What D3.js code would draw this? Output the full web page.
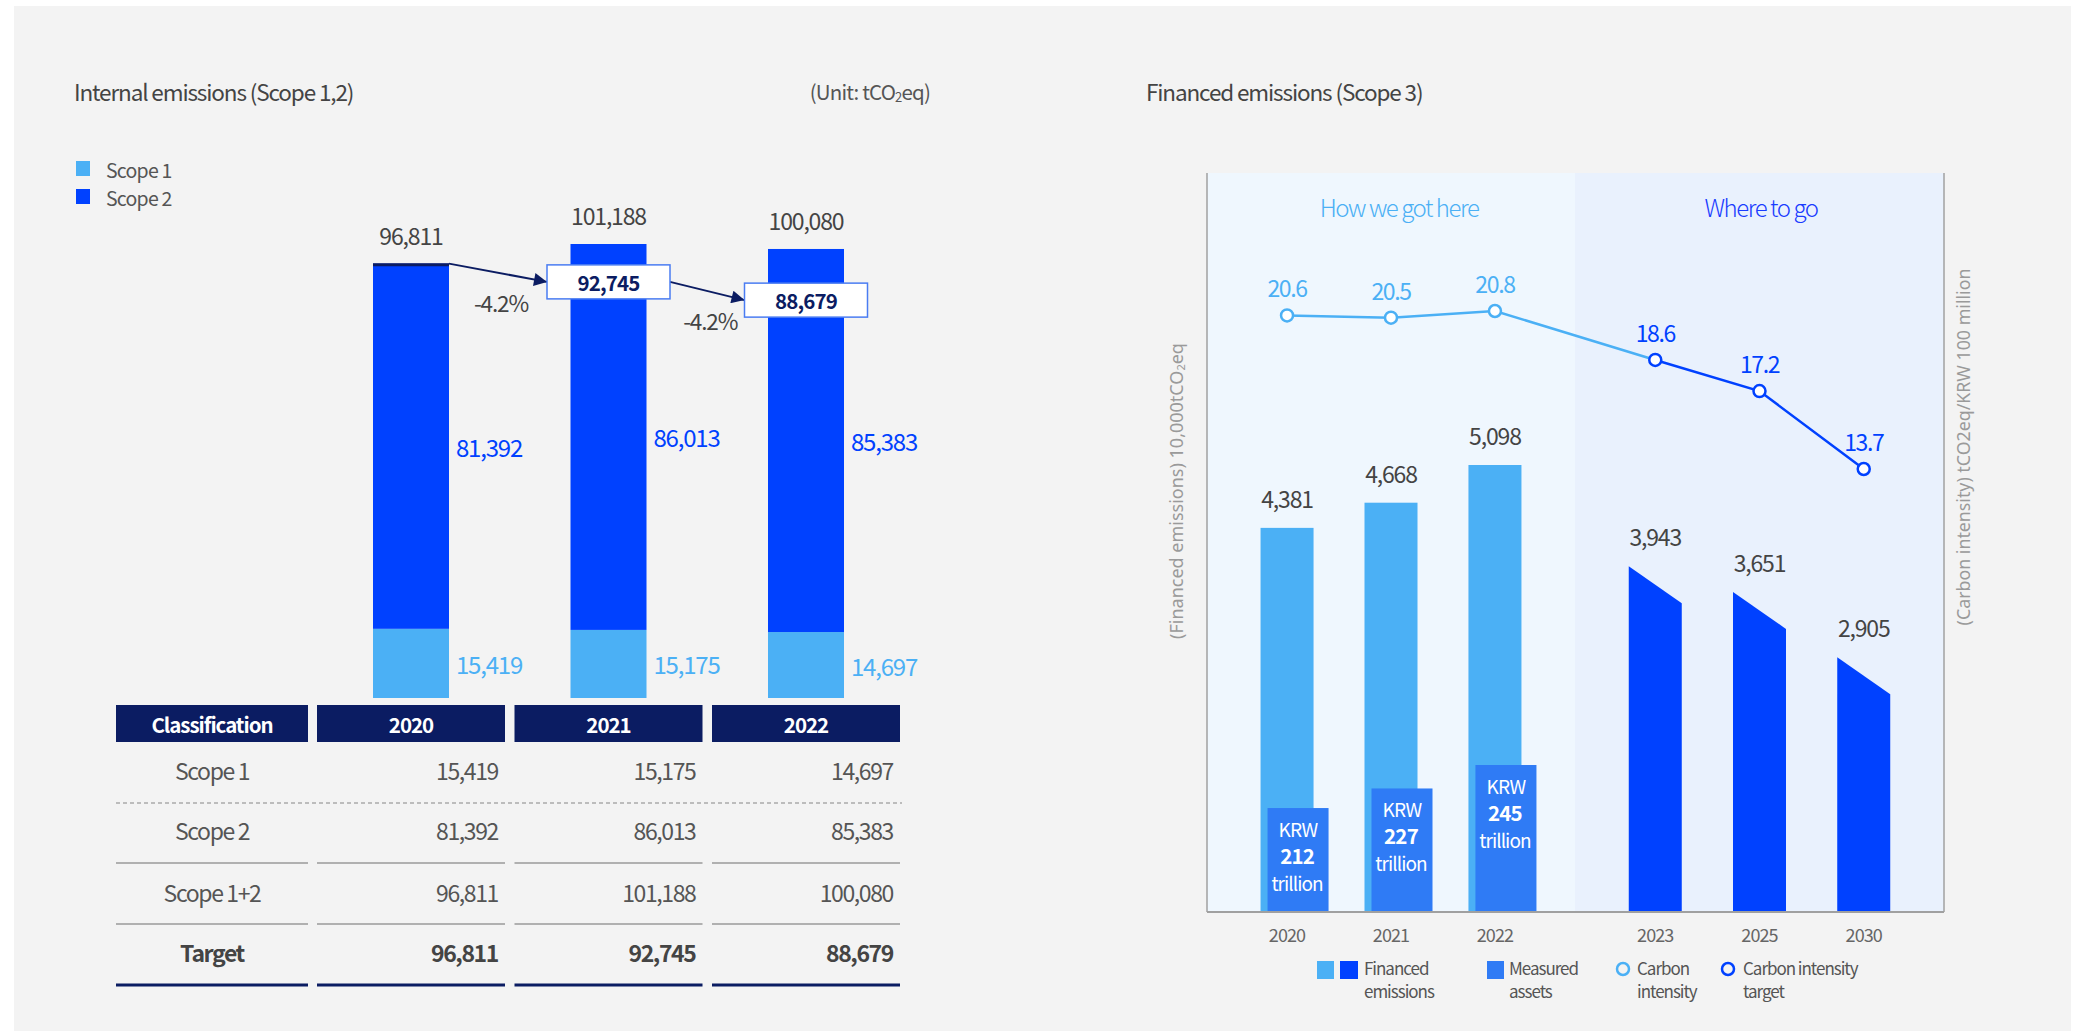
<!DOCTYPE html>
<html lang="en">
<head>
<meta charset="utf-8">
<title>Internal and financed emissions</title>
<script src="https://d3js.org/d3.v7.min.js"></script>
<style>
  body { margin: 0; background: #fff; }
  svg text { font-family: "Noto Sans CJK KR", "Noto Sans", sans-serif; }
</style>
</head>
<body>
<script>
// ---- internal emissions (scope 1,2) ----
const years = ["2020", "2021", "2022"];
const scope1 = [15419, 15175, 14697];
const scope2 = [81392, 86013, 85383];
const totals = [96811, 101188, 100080];
const targets = [96811, 92745, 88679];
const changes = ["-4.2%", "-4.2%"];
const rowLabels = ["Scope 1", "Scope 2", "Scope 1+2", "Target"];
const legendLeft = ["Scope 1", "Scope 2"];

// ---- financed emissions (scope 3) ----
const pastYears = ["2020", "2021", "2022"];
const futureYears = ["2023", "2025", "2030"];
const financed = [4381, 4668, 5098, 3943, 3651, 2905];
const intensity = [20.6, 20.5, 20.8, 18.6, 17.2, 13.7];
const assets = [212, 227, 245];
const legendRight = [["Financed", "emissions"], ["Measured", "assets"], ["Carbon", "intensity"], ["Carbon intensity", "target"]];

const LIGHT = "#4bb0f5", BLUE = "#0041ff", NAVY = "#0b1c62", MID = "#2f7bf5", GREY = "#444";
const fmt = d3.format(",");

const svg = d3.select("body").append("svg")
  .attr("width", 2078).attr("height", 1031);

svg.append("rect").attr("x", 14).attr("y", 6).attr("width", 2057).attr("height", 1025).attr("fill", "#f3f3f3");

svg.append("defs").append("marker")
  .attr("id", "arr").attr("viewBox", "0 0 10 10").attr("refX", 10).attr("refY", 5)
  .attr("markerWidth", 15).attr("markerHeight", 13).attr("orient", "auto")
  .attr("markerUnits", "userSpaceOnUse")
  .append("path").attr("d", "M0,0L10,5L0,10z").attr("fill", NAVY);

// titles
svg.append("text").attr("x", 74).attr("y", 91).attr("dominant-baseline", "central")
  .attr("font-size", 22.5).attr("fill", GREY).attr("letter-spacing", "-0.05em")
  .text("Internal emissions (Scope 1,2)");
const unit = svg.append("text").attr("x", 930).attr("y", 91).attr("dominant-baseline", "central")
  .attr("text-anchor", "end").attr("font-size", 20.5).attr("fill", "#555").attr("letter-spacing", "-0.04em");
unit.append("tspan").text("(Unit: tCO");
unit.append("tspan").attr("font-size", 13).attr("dy", 5).text("2");
unit.append("tspan").attr("dy", -5).text("eq)");

svg.append("text").attr("x", 1146).attr("y", 91).attr("dominant-baseline", "central")
  .attr("font-size", 22.5).attr("fill", GREY).attr("letter-spacing", "-0.05em")
  .text("Financed emissions (Scope 3)");

// left legend
const lg = svg.append("g").selectAll("g").data(legendLeft).join("g")
  .attr("transform", (d, i) => `translate(76,${161 + i * 28})`);
lg.append("rect").attr("width", 14).attr("height", 15).attr("fill", (d, i) => i ? BLUE : LIGHT);
lg.append("text").attr("x", 30).attr("y", 8).attr("dominant-baseline", "central")
  .attr("font-size", 19.5).attr("fill", "#555").attr("letter-spacing", "-0.04em").text(d => d);

// left bars
const xL = d3.scalePoint().domain(years).range([411, 806]);
const yL = d3.scaleLinear().domain([0, 101188]).range([698, 244]);
const bw = 76;

const gL = svg.append("g");
gL.selectAll(".s1").data(years).join("rect")
  .attr("x", d => xL(d) - bw / 2).attr("width", bw)
  .attr("y", (d, i) => yL(scope1[i])).attr("height", (d, i) => yL(0) - yL(scope1[i]))
  .attr("fill", LIGHT);
gL.selectAll(".s2").data(years).join("rect")
  .attr("x", d => xL(d) - bw / 2).attr("width", bw)
  .attr("y", (d, i) => yL(scope1[i] + scope2[i])).attr("height", (d, i) => yL(scope1[i]) - yL(scope1[i] + scope2[i]))
  .attr("fill", BLUE);

gL.selectAll(".l1").data(years).join("text")
  .attr("x", d => xL(d) + bw / 2 + 7).attr("y", (d, i) => (yL(0) + yL(scope1[i])) / 2)
  .attr("dominant-baseline", "central").attr("font-size", 24).attr("fill", LIGHT).attr("letter-spacing", "-0.05em")
  .text((d, i) => fmt(scope1[i]));
gL.selectAll(".l2").data(years).join("text")
  .attr("x", d => xL(d) + bw / 2 + 7).attr("y", (d, i) => (yL(scope1[i]) + yL(totals[i])) / 2)
  .attr("dominant-baseline", "central").attr("font-size", 24).attr("fill", BLUE).attr("letter-spacing", "-0.05em")
  .text((d, i) => fmt(scope2[i]));
gL.selectAll(".lt").data(years).join("text")
  .attr("x", d => xL(d)).attr("y", (d, i) => yL(totals[i]) - 29)
  .attr("dominant-baseline", "central").attr("text-anchor", "middle")
  .attr("font-size", 23).attr("fill", GREY).attr("letter-spacing", "-0.05em")
  .text((d, i) => fmt(totals[i]));

// target line on first bar, boxes on the others
gL.append("line")
  .attr("x1", xL(years[0]) - bw / 2).attr("x2", xL(years[0]) + bw / 2)
  .attr("y1", yL(targets[0]) + 1).attr("y2", yL(targets[0]) + 1)
  .attr("stroke", NAVY).attr("stroke-width", 3);

const boxW = 123, boxH = 34;
const arrows = [
  [xL(years[0]) + bw / 2, yL(targets[0]), xL(years[1]) - boxW / 2, yL(targets[1])],
  [xL(years[1]) + boxW / 2, yL(targets[1]), xL(years[2]) - boxW / 2, yL(targets[2])]
];
gL.selectAll(".arr").data(arrows).join("line")
  .attr("x1", d => d[0]).attr("y1", d => d[1]).attr("x2", d => d[2]).attr("y2", d => d[3])
  .attr("stroke", NAVY).attr("stroke-width", 2).attr("marker-end", "url(#arr)");
gL.selectAll(".chg").data(arrows).join("text")
  .attr("x", d => (d[0] + d[2]) / 2 + 3).attr("y", d => (d[1] + d[3]) / 2 + 29)
  .attr("text-anchor", "middle").attr("dominant-baseline", "central")
  .attr("font-size", 22.5).attr("fill", GREY).attr("letter-spacing", "-0.05em")
  .text((d, i) => changes[i]);

const tb = gL.selectAll(".tb").data(years.slice(1)).join("g")
  .attr("transform", (d, i) => `translate(${xL(d)},${yL(targets[i + 1])})`);
tb.append("rect").attr("x", -boxW / 2).attr("y", -boxH / 2).attr("width", boxW).attr("height", boxH)
  .attr("fill", "#fff").attr("stroke", "#4a7cf2").attr("stroke-width", 1.5);
tb.append("text").attr("text-anchor", "middle").attr("dominant-baseline", "central")
  .attr("font-size", 20.5).attr("font-weight", "bold").attr("fill", NAVY).attr("letter-spacing", "-0.04em")
  .text((d, i) => fmt(targets[i + 1]));

// table
const colW = 188;
const gT = svg.append("g");
const cols = [{ x: 116, w: 192, label: "Classification" }].concat(years.map(y => ({ x: xL(y) - colW / 2, w: colW, label: y })));
gT.selectAll(".hd").data(cols).join("rect")
  .attr("x", d => d.x).attr("y", 705).attr("width", d => d.w).attr("height", 37).attr("fill", NAVY);
gT.selectAll(".ht").data(cols).join("text")
  .attr("x", d => d.x + d.w / 2).attr("y", 724).attr("text-anchor", "middle").attr("dominant-baseline", "central")
  .attr("font-size", 20.5).attr("font-weight", "bold").attr("fill", "#fff").attr("letter-spacing", "-0.05em")
  .text(d => d.label);

const rowY = [770, 830, 892, 952];
const rowVals = [scope1, scope2, totals, targets];
rowLabels.forEach((lab, r) => {
  const bold = r === 3;
  gT.append("text").attr("x", 212).attr("y", rowY[r]).attr("text-anchor", "middle").attr("dominant-baseline", "central")
    .attr("font-size", 23).attr("font-weight", bold ? "bold" : "normal").attr("fill", bold ? GREY : "#555")
    .attr("letter-spacing", "-0.06em").text(lab);
  gT.selectAll(null).data(years).join("text")
    .attr("x", d => xL(d) + colW / 2 - 7).attr("y", rowY[r]).attr("text-anchor", "end").attr("dominant-baseline", "central")
    .attr("font-size", 23).attr("font-weight", bold ? "bold" : "normal").attr("fill", bold ? GREY : "#555")
    .attr("letter-spacing", "-0.06em").text((d, i) => fmt(rowVals[r][i]));
});
gT.append("line").attr("x1", 116).attr("x2", 902).attr("y1", 803).attr("y2", 803)
  .attr("stroke", "#aaa").attr("stroke-width", 1.5).attr("stroke-dasharray", "4,3");
[[863, "#b0b0b0", 2], [924, "#b0b0b0", 2], [985, NAVY, 3]].forEach(([y, c, sw]) => {
  gT.selectAll(null).data(cols).join("line")
    .attr("x1", d => d.x).attr("x2", d => d.x + d.w).attr("y1", y).attr("y2", y)
    .attr("stroke", c).attr("stroke-width", sw);
});

// ---- right chart ----
const x1 = d3.scalePoint().domain(pastYears).range([1207, 1575]).padding(0.77);
const x2 = d3.scalePoint().domain(futureYears).range([1575, 1944]).padding(0.77);
const allYears = pastYears.concat(futureYears);
const xR = y => pastYears.includes(y) ? x1(y) : x2(y);
const yF = d3.scaleLinear().domain([0, 5098]).range([912, 465]);
const yI = d3.scaleLinear().domain([13.7, 20.8]).range([469, 311]);
const yA = d3.scaleLinear().domain([132.3, 245]).range([912, 765]);
const fw = 53;

const gR = svg.append("g");
gR.append("rect").attr("x", 1207).attr("y", 173).attr("width", 368).attr("height", 739).attr("fill", "#eff7fe");
gR.append("rect").attr("x", 1575).attr("y", 173).attr("width", 369).attr("height", 739).attr("fill", "#e9f1fd");
gR.append("line").attr("x1", 1207).attr("x2", 1207).attr("y1", 173).attr("y2", 912).attr("stroke", "#a0a0a0").attr("stroke-width", 1.5);
gR.append("line").attr("x1", 1944).attr("x2", 1944).attr("y1", 173).attr("y2", 912).attr("stroke", "#a0a0a0").attr("stroke-width", 1.5);

gR.append("text").attr("x", 1399).attr("y", 206).attr("text-anchor", "middle").attr("dominant-baseline", "central")
  .attr("font-size", 24).attr("font-weight", 300).attr("fill", LIGHT).attr("letter-spacing", "-0.06em").text("How we got here");
gR.append("text").attr("x", 1761).attr("y", 206).attr("text-anchor", "middle").attr("dominant-baseline", "central")
  .attr("font-size", 24).attr("font-weight", 300).attr("fill", "#1a3cff").attr("letter-spacing", "-0.06em").text("Where to go");

// financed bars
gR.selectAll(".fb").data(pastYears).join("rect")
  .attr("x", d => xR(d) - fw / 2).attr("width", fw)
  .attr("y", (d, i) => yF(financed[i])).attr("height", (d, i) => yF(0) - yF(financed[i]))
  .attr("fill", LIGHT);
gR.selectAll(".fp").data(futureYears).join("path")
  .attr("d", (d, i) => {
    const v = financed[i + 3], l = xR(d) - fw / 2, r = xR(d) + fw / 2;
    return `M${l},${yF(v)}L${r},${yF(v) + 37}L${r},${yF(0)}L${l},${yF(0)}Z`;
  })
  .attr("fill", BLUE);
gR.selectAll(".fl").data(allYears).join("text")
  .attr("x", d => xR(d)).attr("y", (d, i) => yF(financed[i]) - 30)
  .attr("text-anchor", "middle").attr("dominant-baseline", "central")
  .attr("font-size", 23).attr("fill", GREY).attr("letter-spacing", "-0.05em")
  .text((d, i) => fmt(financed[i]));

// measured assets
const ab = gR.selectAll(".ab").data(pastYears).join("g")
  .attr("transform", (d, i) => `translate(${xR(d)},${yA(assets[i])})`);
ab.append("rect").attr("x", -19.5).attr("width", 61).attr("height", (d, i) => yA.range()[0] - yA(assets[i]))
  .attr("fill", MID);
ab.append("text").attr("x", 11).attr("y", 20).attr("text-anchor", "middle").attr("dominant-baseline", "central")
  .attr("font-size", 19).attr("fill", "#fff").attr("letter-spacing", "-0.04em").text("KRW");
ab.append("text").attr("x", 10).attr("y", 47).attr("text-anchor", "middle").attr("dominant-baseline", "central")
  .attr("font-size", 20.5).attr("font-weight", "bold").attr("fill", "#fff").attr("letter-spacing", "-0.04em").text((d, i) => assets[i]);
ab.append("text").attr("x", 10).attr("y", 74).attr("text-anchor", "middle").attr("dominant-baseline", "central")
  .attr("font-size", 19).attr("fill", "#fff").attr("letter-spacing", "-0.05em").text("trillion");

// x axis
gR.append("line").attr("x1", 1207).attr("x2", 1944).attr("y1", 912).attr("y2", 912).attr("stroke", "#a0a0a0").attr("stroke-width", 2);
gR.selectAll(".xt").data(allYears).join("text")
  .attr("x", d => xR(d)).attr("y", 934).attr("text-anchor", "middle").attr("dominant-baseline", "central")
  .attr("font-size", 18).attr("fill", "#666").attr("letter-spacing", "-0.05em").text(d => d);

// carbon intensity line
const line = d3.line().x(d => xR(d[0])).y(d => yI(d[1]));
const pts = allYears.map((y, i) => [y, intensity[i]]);
gR.append("path").attr("d", line(pts.slice(0, 4))).attr("fill", "none").attr("stroke", LIGHT).attr("stroke-width", 2.5);
gR.append("path").attr("d", line(pts.slice(3))).attr("fill", "none").attr("stroke", BLUE).attr("stroke-width", 2.5);
gR.selectAll(".ci").data(pts).join("circle")
  .attr("cx", d => xR(d[0])).attr("cy", d => yI(d[1])).attr("r", 6)
  .attr("fill", "#fff").attr("stroke", (d, i) => i < 3 ? LIGHT : BLUE).attr("stroke-width", 2.5);
gR.selectAll(".cl").data(pts).join("text")
  .attr("x", d => xR(d[0])).attr("y", d => yI(d[1]) - 28)
  .attr("text-anchor", "middle").attr("dominant-baseline", "central")
  .attr("font-size", 23).attr("fill", (d, i) => i < 3 ? LIGHT : BLUE).attr("letter-spacing", "-0.06em")
  .text(d => d[1]);

// axis titles
const at1 = svg.append("text").attr("transform", "translate(1176,491) rotate(-90)")
  .attr("text-anchor", "middle").attr("dominant-baseline", "central")
  .attr("font-size", 18).attr("fill", "#9a9a9a").style("font-family", "'Noto Sans', sans-serif");
at1.append("tspan").text("(Financed emissions) 10,000tCO");
at1.append("tspan").attr("font-size", 11).attr("dy", 4).text("2");
at1.append("tspan").attr("dy", -4).text("eq");
svg.append("text").attr("transform", "translate(1963,447) rotate(-90)")
  .attr("text-anchor", "middle").attr("dominant-baseline", "central")
  .attr("font-size", 17.8).attr("fill", "#9a9a9a").style("font-family", "'Noto Sans', sans-serif")
  .text("(Carbon intensity) tCO2eq/KRW 100 million");

// right legend, two lines per entry
const lr = svg.append("g").attr("font-size", 17);
lr.append("rect").attr("x", 1317).attr("y", 961).attr("width", 17).attr("height", 18).attr("fill", LIGHT);
lr.append("rect").attr("x", 1340).attr("y", 961).attr("width", 18).attr("height", 18).attr("fill", BLUE);
lr.append("rect").attr("x", 1487).attr("y", 961).attr("width", 17).attr("height", 18).attr("fill", MID);
lr.append("circle").attr("cx", 1623).attr("cy", 969).attr("r", 6).attr("fill", "#f3f3f3").attr("stroke", LIGHT).attr("stroke-width", 2.5);
lr.append("circle").attr("cx", 1728).attr("cy", 969).attr("r", 6).attr("fill", "#f3f3f3").attr("stroke", BLUE).attr("stroke-width", 2.5);
const lrx = [1364, 1509, 1637, 1743];
legendRight.forEach((lines, i) => {
  lines.forEach((t, j) => {
    lr.append("text").attr("x", lrx[i]).attr("y", 967 + j * 23).attr("dominant-baseline", "central")
      .attr("fill", "#555").attr("letter-spacing", "-0.06em").text(t);
  });
});
</script>
</body>
</html>
